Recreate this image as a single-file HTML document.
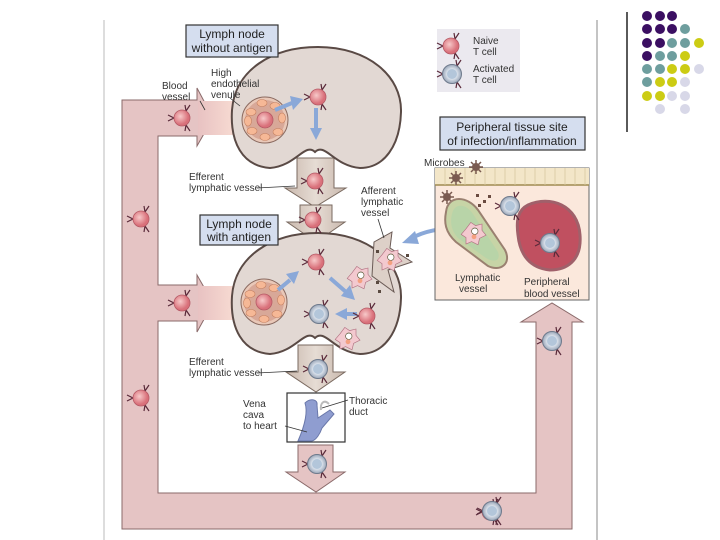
<!DOCTYPE html>
<html><head><meta charset="utf-8"><style>
html,body{margin:0;padding:0;background:#fff;}
svg{display:block;font-family:"Liberation Sans",Arial,sans-serif;}
</style></head><body>
<svg width="720" height="540" viewBox="0 0 720 540" xmlns="http://www.w3.org/2000/svg">
<defs>
<linearGradient id="hevg" x1="0" x2="1"><stop offset="0" stop-color="#e8c2c2"/><stop offset="1" stop-color="#fde4d8"/></linearGradient>
<linearGradient id="effg" x1="0" x2="1"><stop offset="0" stop-color="#c9b8ad"/><stop offset="0.5" stop-color="#e6dcd4"/><stop offset="1" stop-color="#c9b8ad"/></linearGradient>
<radialGradient id="pk" cx="0.4" cy="0.4"><stop offset="0" stop-color="#f7c9c9"/><stop offset="1" stop-color="#d9707a"/></radialGradient>
<radialGradient id="ac" cx="0.5" cy="0.5"><stop offset="0" stop-color="#a9bfd6"/><stop offset="0.5" stop-color="#dfe6ef"/><stop offset="1" stop-color="#9aa6b8"/></radialGradient>
<g id="nv"><path d="M-8,0 l-6,-3 M-8,0 l-6,3 M4,-7 l4,-6 M4,-7 l-1,-6 M4,7 l4,6 M4,7 l-1,6" stroke="#5a2a3a" stroke-width="1.2" fill="none"/><circle r="8" fill="url(#pk)" stroke="#b55a66" stroke-width="0.8"/></g>
<g id="av"><path d="M-9,0 l-6,-3 M-9,0 l-6,3 M5,-8 l4,-6 M5,-8 l-1,-6 M5,8 l4,6 M5,8 l-1,6" stroke="#5a2a3a" stroke-width="1.2" fill="none"/><circle r="9.5" fill="url(#ac)" stroke="#6e7a8c" stroke-width="1"/><circle r="5" fill="#b3c6da"/></g>
<g id="dc"><path d="M-10,-4 l6,-8 l6,4 l8,-2 l0,8 l5,6 l-8,4 l-2,8 l-8,-4 l-7,3 l0,-8 l-6,-4 z" fill="#f3c9cf" stroke="#b07080" stroke-width="0.8"/><circle cx="1" cy="-1" r="4" fill="#fff" stroke="#553" stroke-width="0.8"/><circle cx="0" cy="6" r="3" fill="#f4a080"/></g>
<g id="mb"><circle r="4" fill="#7a5a50"/><path d="M0,-7V7M-7,0H7M-5,-5L5,5M-5,5L5,-5" stroke="#7a5a50" stroke-width="1.5"/></g>
<g id="kid"><path d="M315 152 C305 142 296 166 270 168 C242 166 230 142 232 110 C235 70 272 47 318 47 C368 47 402 76 401 112 C400 146 384 168 360 168 C334 166 325 142 315 152 Z" fill="#e2d8d3" stroke="#5a4a45" stroke-width="2"/></g>
<g id="hev"><circle r="23" fill="#e9c8b8" stroke="#8a6a60" stroke-width="1"/><circle r="20" fill="#d8a898"/>
<g fill="#f6b896" stroke="#c58060" stroke-width="0.6"><ellipse cx="-14" cy="-8" rx="5" ry="3.5"/><ellipse cx="-3" cy="-17" rx="5" ry="3.5"/><ellipse cx="10" cy="-14" rx="5" ry="3.5"/><ellipse cx="17" cy="-2" rx="3.5" ry="5"/><ellipse cx="13" cy="12" rx="5" ry="3.5"/><ellipse cx="0" cy="17" rx="5" ry="3.5"/><ellipse cx="-13" cy="11" rx="5" ry="3.5"/><ellipse cx="-17" cy="1" rx="3.5" ry="5"/></g>
<circle r="8" fill="url(#pk)" stroke="#b55a66" stroke-width="0.8"/></g>
</defs>

<line x1="104" y1="20" x2="104" y2="540" stroke="#bbb" stroke-width="1"/>
<line x1="597" y1="20" x2="597" y2="540" stroke="#888" stroke-width="1"/>
<line x1="627" y1="12" x2="627" y2="132" stroke="#000" stroke-width="1.3"/>

<g>
<circle cx="647" cy="16" r="5" fill="#3b0f62"/><circle cx="660" cy="16" r="5" fill="#3b0f62"/><circle cx="672" cy="16" r="5" fill="#3b0f62"/>
<circle cx="647" cy="29" r="5" fill="#3b0f62"/><circle cx="660" cy="29" r="5" fill="#3b0f62"/><circle cx="672" cy="29" r="5" fill="#3b0f62"/><circle cx="685" cy="29" r="5" fill="#6e9e9e"/>
<circle cx="647" cy="43" r="5" fill="#3b0f62"/><circle cx="660" cy="43" r="5" fill="#3b0f62"/><circle cx="672" cy="43" r="5" fill="#6e9e9e"/><circle cx="685" cy="43" r="5" fill="#6e9e9e"/><circle cx="699" cy="43" r="5" fill="#cccc14"/>
<circle cx="647" cy="56" r="5" fill="#3b0f62"/><circle cx="660" cy="56" r="5" fill="#6e9e9e"/><circle cx="672" cy="56" r="5" fill="#6e9e9e"/><circle cx="685" cy="56" r="5" fill="#cccc14"/>
<circle cx="647" cy="69" r="5" fill="#6e9e9e"/><circle cx="660" cy="69" r="5" fill="#6e9e9e"/><circle cx="672" cy="69" r="5" fill="#cccc14"/><circle cx="685" cy="69" r="5" fill="#cccc14"/><circle cx="699" cy="69" r="5" fill="#d8d8e8"/>
<circle cx="647" cy="82" r="5" fill="#6e9e9e"/><circle cx="660" cy="82" r="5" fill="#cccc14"/><circle cx="672" cy="82" r="5" fill="#cccc14"/><circle cx="685" cy="82" r="5" fill="#d8d8e8"/>
<circle cx="647" cy="96" r="5" fill="#cccc14"/><circle cx="660" cy="96" r="5" fill="#cccc14"/><circle cx="672" cy="96" r="5" fill="#d8d8e8"/><circle cx="685" cy="96" r="5" fill="#d8d8e8"/>
<circle cx="660" cy="109" r="5" fill="#d8d8e8"/><circle cx="685" cy="109" r="5" fill="#d8d8e8"/>
</g>

<path d="M122 100 H197 V88 L213 118 L197 146 V136 H158 V285 H197 V275 L213 303 L197 332 V321 H158 V493 H536 V322 H521 L552 303 L583 322 H572 V529 H122 Z" fill="#e5c4c4" stroke="#8a6a6a" stroke-width="1"/>
<rect x="198" y="101" width="50" height="34" fill="url(#hevg)"/>
<rect x="198" y="286" width="50" height="34" fill="url(#hevg)"/>

<path d="M297 158 H334 V188 H346 L315 207 L285 188 H297 Z" fill="url(#effg)" stroke="#7a6a60"/>
<path d="M300 205 H332 V222 H345 L316 242 L287 222 H300 Z" fill="url(#effg)" stroke="#7a6a60"/>
<path d="M298 345 H333 V372 H345 L316 392 L286 372 H298 Z" fill="url(#effg)" stroke="#7a6a60"/>
<path d="M298 445 H333 V472 H345 L316 492 L286 472 H298 Z" fill="#e5c4c4" stroke="#8a6a6a"/>

<use href="#kid"/>
<use href="#kid" transform="translate(0,186)"/>
<path d="M374 242 L392 232 L390 248 L412 262 L388 270 L394 292 L372 276 Z" fill="#ddd0c8" stroke="#6a5a55"/>
<use href="#dc" transform="translate(390,258) scale(0.8)"/>

<use href="#hev" transform="translate(265,120)"/>
<use href="#hev" transform="translate(264,302)"/>

<g stroke="#8aa8d8" stroke-width="4" fill="#8aa8d8">
<line x1="275" y1="110" x2="292" y2="103"/><path d="M290 96 L303 99 L293 110 Z" stroke="none"/>
<line x1="316" y1="108" x2="316" y2="130"/><path d="M310 128 L322 128 L316 140 Z" stroke="none"/>
<line x1="278" y1="290" x2="290" y2="280"/><path d="M286 274 L299 271 L294 284 Z" stroke="none"/>
<line x1="330" y1="278" x2="346" y2="292"/><path d="M350 285 L355 300 L341 296 Z" stroke="none"/>
<line x1="357" y1="314" x2="345" y2="314"/><path d="M347 308 L335 314 L347 320 Z" stroke="none"/>
<path d="M460 228 Q430 228 412 238" fill="none"/><path d="M415 231 L402 243 L419 244 Z" stroke="none"/>
<line x1="546" y1="225" x2="534" y2="212"/><path d="M528 215 L526 203 L538 208 Z" stroke="none"/>
</g>

<use href="#nv" transform="translate(182,118)"/>
<use href="#nv" transform="translate(318,97)"/>
<use href="#nv" transform="translate(315,181)"/>
<use href="#nv" transform="translate(313,220)"/>
<use href="#nv" transform="translate(316,262)"/>
<use href="#nv" transform="translate(367,316)"/>
<use href="#nv" transform="translate(182,303)"/>
<use href="#nv" transform="translate(141,219)"/>
<use href="#nv" transform="translate(141,398)"/>
<use href="#nv" transform="translate(490,512)"/>
<use href="#av" transform="translate(319,314)"/>
<use href="#av" transform="translate(318,369)"/>
<use href="#av" transform="translate(317,464)"/>
<use href="#av" transform="translate(552,341)"/>
<use href="#av" transform="translate(492,511)"/>
<use href="#dc" transform="translate(360,276) scale(0.8)"/>
<use href="#dc" transform="translate(348,337) scale(0.8)"/>
<g fill="#5a4a40"><rect x="376" y="281" width="3" height="3"/><rect x="378" y="290" width="3" height="3"/><rect x="376" y="250" width="3" height="3"/><rect x="406" y="254" width="3" height="3"/></g>

<rect x="287" y="393" width="58" height="49" fill="#fff" stroke="#333" stroke-width="1.2"/>
<path d="M298 441 C305 425 308 412 305 403 C310 398 318 399 317 405 L318 418 L330 410 L334 414 L322 428 C320 434 316 440 312 441 Z" fill="#8f9dd0" stroke="#6a78aa"/>
<path d="M321 410 C320 403 324 399 329 404" fill="none" stroke="#bbb" stroke-width="2"/>

<rect x="186" y="25" width="92" height="32" fill="#d5deef" stroke="#333" stroke-width="1.2"/>
<text x="232" y="38" font-size="12" text-anchor="middle" fill="#222">Lymph node</text>
<text x="232" y="52" font-size="12" text-anchor="middle" fill="#222">without antigen</text>
<rect x="200" y="215" width="78" height="30" fill="#d5deef" stroke="#333" stroke-width="1.2"/>
<text x="239" y="228" font-size="12" text-anchor="middle" fill="#222">Lymph node</text>
<text x="239" y="241" font-size="12" text-anchor="middle" fill="#222">with antigen</text>
<rect x="440" y="117" width="145" height="33" fill="#d5deef" stroke="#333" stroke-width="1.2"/>
<text x="512" y="131" font-size="12" text-anchor="middle" fill="#222">Peripheral tissue site</text>
<text x="512" y="145" font-size="12" text-anchor="middle" fill="#222">of infection/inflammation</text>

<rect x="437" y="29" width="83" height="63" fill="#ebe9ef"/>
<use href="#nv" transform="translate(451,46)"/>
<use href="#av" transform="translate(452,74)"/>
<g font-size="10" fill="#333"><text x="473" y="44">Naive</text><text x="473" y="55">T cell</text><text x="473" y="72">Activated</text><text x="473" y="83">T cell</text></g>

<rect x="435" y="168" width="154" height="132" fill="#fbe8dc" stroke="#666"/>
<rect x="435" y="168" width="154" height="17" fill="#f3e6c8"/>
<line x1="435" y1="185" x2="589" y2="185" stroke="#a08a50" stroke-width="1.5"/>
<g fill="none" stroke="#d8c8a0" stroke-width="0.8">
<path d="M445 168v17M455 168v17M465 168v17M475 168v17M485 168v17M495 168v17M505 168v17M515 168v17M525 168v17M535 168v17M545 168v17M555 168v17M565 168v17M575 168v17M585 168v17"/></g>
<use href="#mb" transform="translate(456,178)"/>
<use href="#mb" transform="translate(476,167)"/>
<use href="#mb" transform="translate(447,197)"/>
<g fill="#6a4a40"><rect x="476" y="194" width="3" height="3"/><rect x="483" y="200" width="3" height="3"/><rect x="478" y="204" width="3" height="3"/><rect x="488" y="195" width="3" height="3"/></g>
<path d="M446 212 C448 194 468 196 478 210 L505 250 C512 264 500 272 488 266 L456 242 C445 232 444 222 446 212 Z" fill="#c7d4a6" stroke="#9a8070" stroke-width="2"/>
<path d="M452 214 C454 203 466 203 473 214 L498 252 C501 261 494 263 486 258 L458 238 C451 230 450 222 452 214 Z" fill="#b8d4a8"/>
<use href="#dc" transform="translate(474,232) scale(0.8)"/>
<path d="M528 205 C550 195 578 205 580 235 C582 262 565 270 550 270 C530 268 520 255 518 235 C516 220 518 210 528 205 Z" fill="#c05060" stroke="#a0606a" stroke-width="3"/>
<use href="#av" transform="translate(550,243)"/>
<use href="#av" transform="translate(510,206)"/>
<g font-size="10" fill="#333">
<text x="455" y="281">Lymphatic</text><text x="459" y="292">vessel</text>
<text x="524" y="285">Peripheral</text><text x="524" y="297">blood vessel</text>
<text x="424" y="166">Microbes</text>
</g>

<g font-size="10" fill="#333">
<text x="162" y="89">Blood</text><text x="162" y="100">vessel</text>
<text x="211" y="76">High</text><text x="211" y="87">endothelial</text><text x="211" y="98">venule</text>
<text x="189" y="180">Efferent</text><text x="189" y="191">lymphatic vessel</text>
<text x="361" y="194">Afferent</text><text x="361" y="205">lymphatic</text><text x="361" y="216">vessel</text>
<text x="189" y="365">Efferent</text><text x="189" y="376">lymphatic vessel</text>
<text x="243" y="407">Vena</text><text x="243" y="418">cava</text><text x="243" y="429">to heart</text>
<text x="349" y="404">Thoracic</text><text x="349" y="415">duct</text>
</g>
<g stroke="#333" stroke-width="0.8">
<line x1="257" y1="188" x2="295" y2="186"/><line x1="257" y1="373" x2="297" y2="371"/>
<line x1="285" y1="426" x2="307" y2="432"/><line x1="348" y1="400" x2="322" y2="408"/>
<line x1="378" y1="219" x2="384" y2="238"/><line x1="200" y1="101" x2="205" y2="110"/><line x1="230" y1="98" x2="240" y2="106"/>
</g>
</svg>
</body></html>
